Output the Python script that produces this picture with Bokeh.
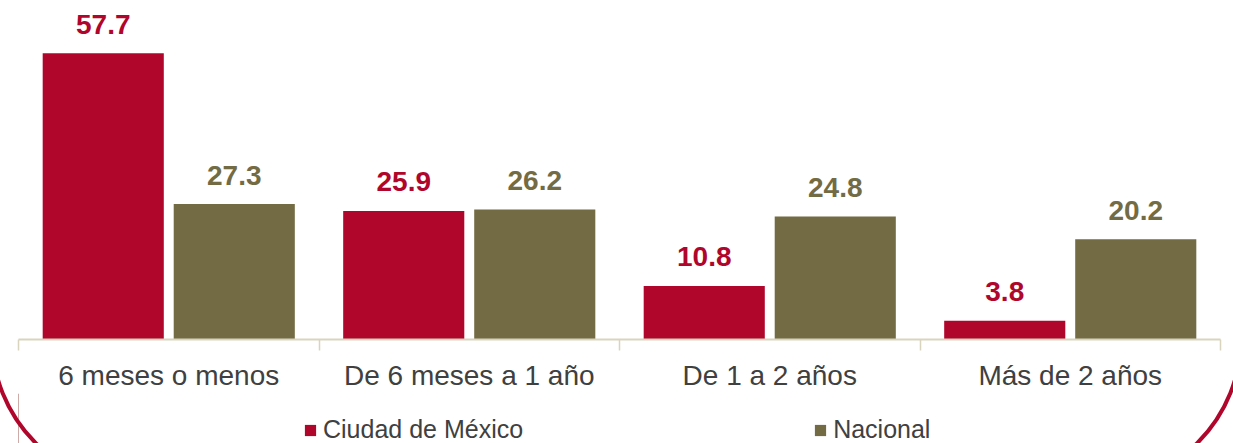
import numpy as np
from bokeh.plotting import figure
from bokeh.layouts import column
from bokeh.models import (ColumnDataSource, Range1d, LinearAxis, FixedTicker, Legend,
                          LegendItem, InlineStyleSheet)
from bokeh.transform import dodge
from bokeh.core.properties import value
from bokeh.embed import file_html
from bokeh.resources import INLINE

categories = ["6 meses o menos", "De 6 meses a 1 año", "De 1 a 2 años", "Más de 2 años"]
series_names = ["Ciudad de México", "Nacional"]
cdmx = [57.7, 25.9, 10.8, 3.8]
nacional = [27.3, 26.2, 24.8, 20.2]

RED = "#B0062C"
OLIVE = "#736B43"
AXIS_C = "#D9D4BE"
TXT = "#404040"
FONT = "Liberation Sans"

centers = [i + 0.5 for i in range(len(categories))]
src = ColumnDataSource(dict(
    x=centers, cat=categories, cdmx=cdmx, nac=nacional,
    cdmx_lbl=[f"{v:.1f}" for v in cdmx], nac_lbl=[f"{v:.1f}" for v in nacional],
))

MAIN_H, LEG_H = 393, 50


def frame_css(top_offset):
    return InlineStyleSheet(css=f"""
:host {{ overflow: hidden; }}
:host::after {{
  content: ""; position: absolute; pointer-events: none; box-sizing: border-box;
  left: -10px; top: {top_offset}px; width: 1253px; height: 988px;
  border: 4px solid {RED}; border-radius: 150px;
}}
""")


p = figure(width=1233, height=MAIN_H, output_backend="svg", toolbar_location=None,
           x_range=Range1d(0, len(categories)), y_range=Range1d(0, 66.7),
           x_axis_type=None, y_axis_type=None,
           min_border_left=18, min_border_right=13, min_border_top=8, min_border_bottom=52)
p.grid.visible = False
p.outline_line_color = None
p.background_fill_color = "white"
p.border_fill_color = "white"

off = 0.218
bw = 0.403
r1 = p.vbar(x=dodge("x", -off, range=p.x_range), top="cdmx", width=bw, source=src,
            fill_color=RED, line_color=None)
r2 = p.vbar(x=dodge("x", off, range=p.x_range), top="nac", width=bw, source=src,
            fill_color=OLIVE, line_color=None)

p.text(x=dodge("x", -off, range=p.x_range), y="cdmx", text="cdmx_lbl", source=src,
       text_align="center", text_baseline="alphabetic", y_offset=-29,
       text_font=value(FONT), text_font_style="bold", text_font_size="28px", text_color=RED)
p.text(x=dodge("x", off, range=p.x_range), y="nac", text="nac_lbl", source=src,
       text_align="center", text_baseline="alphabetic", y_offset=-29,
       text_font=value(FONT), text_font_style="bold", text_font_size="28px", text_color=OLIVE)

ax = LinearAxis(ticker=FixedTicker(ticks=centers, minor_ticks=list(range(len(categories) + 1))))
ax.major_label_overrides = {c: n for c, n in zip(centers, categories)}
ax.major_tick_in = 0
ax.major_tick_out = 0
ax.minor_tick_in = 0
ax.minor_tick_out = 11
ax.minor_tick_line_color = AXIS_C
ax.minor_tick_line_width = 1.5
ax.axis_line_color = AXIS_C
ax.axis_line_width = 2
ax.major_label_standoff = 9
ax.major_label_text_font = FONT
ax.major_label_text_font_size = "28px"
ax.major_label_text_color = TXT
p.add_layout(ax, "below")
p.stylesheets = [frame_css(-500)]

# legend strip below the chart (swatch renderers sit outside the visible range)
lg = figure(width=1233, height=LEG_H, output_backend="svg", toolbar_location=None,
            x_range=Range1d(0, 1), y_range=Range1d(0, 1),
            x_axis_type=None, y_axis_type=None,
            min_border_left=0, min_border_right=0, min_border_top=0, min_border_bottom=0)
lg.grid.visible = False
lg.outline_line_color = None
lg.border_fill_color = "white"
swatch = ColumnDataSource(dict(x=[-10], top=[1]))
l1 = lg.vbar(x="x", top="top", width=0.1, source=swatch, fill_color=RED, line_color=None)
l2 = lg.vbar(x="x", top="top", width=0.1, source=swatch, fill_color=OLIVE, line_color=None)
legend = Legend(items=[LegendItem(label=series_names[0], renderers=[l1]),
                       LegendItem(label=series_names[1], renderers=[l2])],
                orientation="horizontal", location=(285, -1), spacing=290,
                glyph_width=14, glyph_height=14, label_standoff=6, padding=0, margin=0,
                border_line_color=None, background_fill_alpha=0,
                label_text_font=FONT, label_text_font_size="25px", label_text_color=TXT)
lg.add_layout(legend)
lg.stylesheets = [frame_css(-500 - MAIN_H)]

open("out.html", "w").write(file_html(column(p, lg, spacing=0), INLINE))
